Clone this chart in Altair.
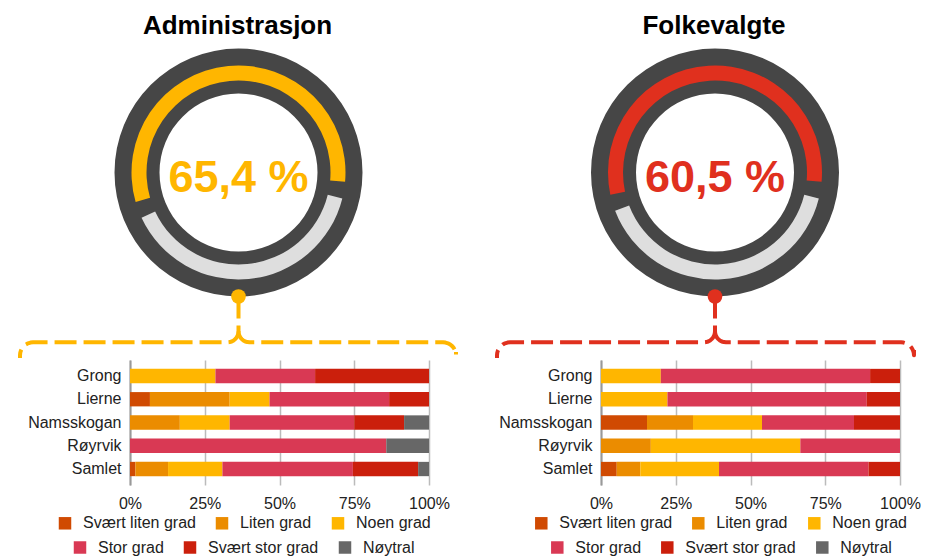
import altair as alt
import numpy as np
import pandas as pd

FONT = "Liberation Sans"

# ---------------- data ----------------
panel_titles = ["Administrasjon", "Folkevalgte"]
gauge_values = [65.4, 60.5]
gauge_arc_deg = [201, 197]          # filled sweep of the ring as drawn
accent_colors = ["#FFB600", "#E0301E"]

kommuner = ["Grong", "Lierne", "Namsskogan", "Røyrvik", "Samlet"]
categories = ["Svært liten grad", "Liten grad", "Noen grad",
              "Stor grad", "Svært stor grad", "Nøytral"]
category_colors = ["#D04A02", "#EB8C00", "#FFB600", "#D93954", "#CB1F0C", "#676767"]

# answer counts per kommune, in category order
adm_grong = [0, 0, 6, 7, 8, 0]
adm_lierne = [1, 4, 2, 6, 2, 0]
adm_namsskogan = [0, 2, 2, 5, 2, 1]
adm_royrvik = [0, 0, 0, 6, 0, 1]
adm_samlet = [1, 6, 10, 24, 12, 2]

folk_grong = [0, 0, 2, 7, 1, 0]
folk_lierne = [0, 0, 2, 6, 1, 0]
folk_namsskogan = [2, 2, 3, 4, 2, 0]
folk_royrvik = [0, 1, 3, 2, 0, 0]
folk_samlet = [2, 3, 10, 19, 4, 0]

panel_counts = [
    [adm_grong, adm_lierne, adm_namsskogan, adm_royrvik, adm_samlet],
    [folk_grong, folk_lierne, folk_namsskogan, folk_royrvik, folk_samlet],
]

# ---------------- layout constants ----------------
PANEL_W = 299
GAUGE_H = 345
BAR_H = 125
COL_GAP = 172
ROW_GAP = 7
CXS = [108.5, 114]                  # gauge centre x inside each panel
CY = 164.5
R_OUT, R_ARC_OUT, R_ARC_IN, R_IN = 124, 107, 92, 79
ARC_END, GAP = 95, 9
DOT_Y = 288.5
Y_H = 334.3
RING = "#464646"
LIGHT = "#DEDEDE"
# bracket ends: x_left, x_right, y of left end, y of right end
BRACKET = [(-110, 326, 350, 344), (-104, 313, 350, 342)]
LEGEND_X = [(-73, -58), (-67.7, -51.7)]


def bracket_frame(cx, x_left, x_right, y_left_end, y_right_end, r_in=11, r_out=13):
    pts = []
    k = 0
    pts.append(("L", k, cx, DOT_Y)); k += 1
    pts.append(("L", k, cx, Y_H - r_in)); k += 1
    for a in np.linspace(0, np.pi / 2, 9)[1:]:
        pts.append(("L", k, cx - r_in + r_in * np.cos(a), Y_H - r_in + r_in * np.sin(a))); k += 1
    pts.append(("L", k, x_left + r_out, Y_H)); k += 1
    for a in np.linspace(-np.pi / 2, -np.pi, 9)[1:]:
        pts.append(("L", k, x_left + r_out + r_out * np.cos(a), Y_H + r_out + r_out * np.sin(a))); k += 1
    pts.append(("L", k, x_left, y_left_end)); k += 1
    k = 0
    for a in np.linspace(np.pi, np.pi / 2, 9):
        pts.append(("R", k, cx + r_in + r_in * np.cos(a), Y_H - r_in + r_in * np.sin(a))); k += 1
    pts.append(("R", k, x_right - r_out, Y_H)); k += 1
    for a in np.linspace(-np.pi / 2, 0, 9)[1:]:
        pts.append(("R", k, x_right - r_out + r_out * np.cos(a), Y_H + r_out + r_out * np.sin(a))); k += 1
    pts.append(("R", k, x_right, y_right_end)); k += 1
    return pd.DataFrame(pts, columns=["branch", "ord", "px", "py"])


def gauge_panel(i):
    accent = accent_colors[i]
    cx = CXS[i]
    label = f"{gauge_values[i]:.1f}".replace(".", ",") + " %"
    one = pd.DataFrame({"label": [label], "title": [panel_titles[i]]})

    ring = alt.Chart(pd.DataFrame({"t0": [0.0], "t1": [2 * np.pi]})).mark_arc(
        radius=R_OUT, radius2=R_IN, color=RING
    ).encode(theta=alt.Theta("t0:Q", scale=None), theta2=alt.Theta2("t1:Q"),
             x=alt.value(cx), y=alt.value(CY))

    start = ARC_END - gauge_arc_deg[i]
    filled_df = pd.DataFrame({"t0": [np.radians(start + 360)], "t1": [np.radians(ARC_END + 360)]})
    rest_df = pd.DataFrame({"t0": [np.radians(ARC_END + GAP)], "t1": [np.radians(start + 360 - GAP)]})
    filled = alt.Chart(filled_df).mark_arc(radius=R_ARC_OUT, radius2=R_ARC_IN, color=accent).encode(
        theta=alt.Theta("t0:Q", scale=None), theta2=alt.Theta2("t1:Q"), x=alt.value(cx), y=alt.value(CY))
    rest = alt.Chart(rest_df).mark_arc(radius=R_ARC_OUT, radius2=R_ARC_IN, color=LIGHT).encode(
        theta=alt.Theta("t0:Q", scale=None), theta2=alt.Theta2("t1:Q"), x=alt.value(cx), y=alt.value(CY))

    xl, xr, yl, yr = BRACKET[i]
    br = bracket_frame(cx, xl, xr, yl, yr)
    bracket = alt.Chart(br).mark_line(strokeWidth=4, strokeDash=[22, 7], color=accent,
                                      strokeJoin="round").encode(
        x=alt.X("px:Q", scale=alt.Scale(domain=[0, PANEL_W], nice=False, zero=False), axis=None),
        y=alt.Y("py:Q", scale=alt.Scale(domain=[0, GAUGE_H], reverse=True, nice=False, zero=False), axis=None),
        detail="branch:N",
        order="ord:Q",
    )
    dot = alt.Chart(pd.DataFrame({"a": [0]})).mark_circle(size=214, color=accent, opacity=1).encode(
        x=alt.value(cx), y=alt.value(DOT_Y))

    pct = alt.Chart(one).mark_text(font=FONT, fontSize=45, fontWeight="bold", color=accent,
                                   align="center", baseline="middle").encode(
        x=alt.value(cx), y=alt.value(169.7), text="label:N")
    title = alt.Chart(one).mark_text(font=FONT, fontSize=26, fontWeight="bold", color="#000000",
                                     align="center", baseline="alphabetic").encode(
        x=alt.value(cx - 1), y=alt.value(26.3), text="title:N")

    return alt.layer(ring, filled, rest, bracket, dot, pct, title).properties(
        width=PANEL_W, height=GAUGE_H)


def bar_panel(i):
    rows = []
    for kommune, counts in zip(kommuner, panel_counts[i]):
        for j, (cat, n) in enumerate(zip(categories, counts)):
            rows.append({"kommune": kommune, "kategori": cat, "kat2": cat, "n": n, "ord": j})
    df = pd.DataFrame(rows)

    legend_common = dict(orient="none", direction="horizontal", title=None, symbolType="square",
                         symbolSize=156, symbolStrokeWidth=0, labelFontSize=16, labelFont=FONT,
                         labelColor="#222222", labelOffset=10, columnPadding=18, padding=0)
    lx1, lx2 = LEGEND_X[i]

    bars = alt.Chart(df).mark_bar().encode(
        x=alt.X("n:Q", stack="normalize", scale=alt.Scale(domain=[0, 1], nice=False),
                axis=alt.Axis(format=".0%", values=[0, 0.25, 0.5, 0.75, 1], title=None, grid=True,
                              gridColor="#BBBBBB", gridWidth=1.5, domain=False, ticks=False, tickSize=0,
                              labelFlush=False, labelOverlap=False,
                              labelPadding=10, labelFontSize=16, labelColor="#222222", labelFont=FONT)),
        y=alt.Y("kommune:N", sort=kommuner, scale=alt.Scale(paddingInner=0.385, paddingOuter=0.38),
                axis=alt.Axis(title=None, ticks=False, tickSize=0, domain=True, domainColor="#999999",
                              domainWidth=2, labelPadding=9, labelFontSize=16, labelColor="#222222",
                              labelFont=FONT, grid=False)),
        color=alt.Color("kategori:N", scale=alt.Scale(domain=categories, range=category_colors),
                        legend=alt.Legend(values=categories[:3], legendX=lx1, legendY=155.3,
                                          **legend_common)),
        order=alt.Order("ord:Q"),
    )
    legend2 = alt.Chart(df).transform_filter("false").mark_square(opacity=1).encode(
        fill=alt.Fill("kat2:N", scale=alt.Scale(domain=categories[3:], range=category_colors[3:]),
                      legend=alt.Legend(legendX=lx2, legendY=179.5, **legend_common)),
    )
    return alt.layer(bars, legend2).properties(width=PANEL_W, height=BAR_H)


chart = alt.concat(
    gauge_panel(0), gauge_panel(1), bar_panel(0), bar_panel(1),
    columns=2, spacing={"row": ROW_GAP, "column": COL_GAP}, bounds="flush",
).resolve_scale(
    color="independent", fill="independent"
).resolve_legend(
    color="independent", fill="independent"
).properties(
    padding={"left": 10, "top": 0, "right": 0, "bottom": 0}
).configure_view(stroke=None)

chart.save("out.html", embed_options={"renderer": "svg", "actions": False})
